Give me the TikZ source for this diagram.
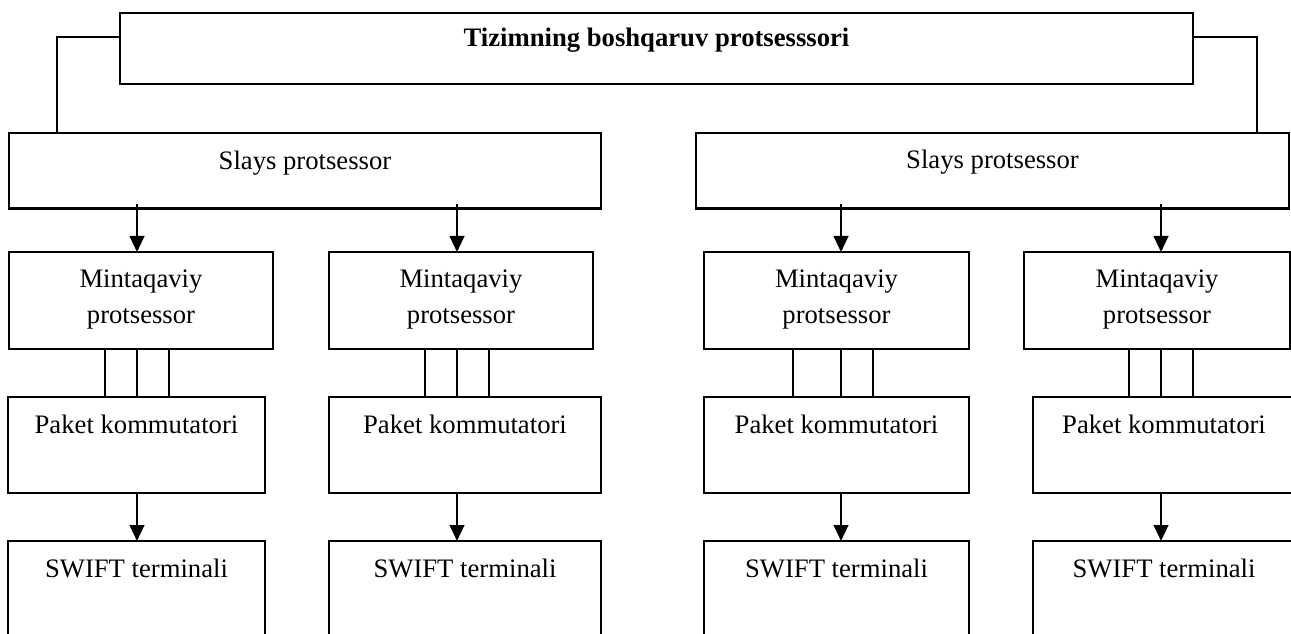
\documentclass[tikz,border=0pt]{standalone}
\usepackage{fontspec}
\setmainfont{Liberation Serif}
\usetikzlibrary{arrows.meta,fit}
\begin{document}
\begin{tikzpicture}[x=0.75pt,y=-0.75pt,
  box/.style={draw, line width=1.6pt, inner sep=0pt, outer sep=0pt, rectangle},
  txt/.style={inner sep=0pt, anchor=base, font=\fontsize{20}{27.4}\selectfont, align=center},
  ln/.style={line width=1.6pt},
  arr/.style={line width=1.6pt, -{Triangle[length=12pt,width=11pt]}}]
\useasboundingbox (0,0) rectangle (1291,634);
\clip (0,0) rectangle (1291,634);
% boxes
\node[box, fit={(120,13) (1193,84)}] (top) {};
\node[box, fit={(9,133) (601,208.5)}] (s1) {};
\node[box, fit={(696,133) (1289,208.5)}] (s2) {};
\node[box, fit={(9,252) (273,349)}] (m1) {};
\node[box, fit={(329,252) (593,349)}] (m2) {};
\node[box, fit={(704,252) (969,349)}] (m3) {};
\node[box, fit={(1024,252) (1290,349)}] (m4) {};
\node[box, fit={(8,397) (265,493)}] (p1) {};
\node[box, fit={(329,397) (601,493)}] (p2) {};
\node[box, fit={(704,397) (969,493)}] (p3) {};
\node[box, fit={(1033,397) (1300,493)}] (p4) {};
\node[box, fit={(8,541) (265,670)}] (w1) {};
\node[box, fit={(329,541) (601,670)}] (w2) {};
\node[box, fit={(704,541) (969,670)}] (w3) {};
\node[box, fit={(1033,541) (1300,670)}] (w4) {};
% texts
\node[txt, font=\bfseries\fontsize{20}{24}\selectfont] (ttop) at (656.5,47) {Tizimning boshqaruv protsesssori};
\node[txt] (ts1) at (305,170) {Slays protsessor};
\node[txt] (ts2) at (992.5,169) {Slays protsessor};
\node[txt] (tm1) at (141,324) {Mintaqaviy\\protsessor};
\node[txt] (tm2) at (461,324) {Mintaqaviy\\protsessor};
\node[txt] (tm3) at (836.5,324) {Mintaqaviy\\protsessor};
\node[txt] (tm4) at (1157,324) {Mintaqaviy\\protsessor};
\node[txt] (tp1) at (136.5,433) {Paket kommutatori};
\node[txt] (tp2) at (465,433) {Paket kommutatori};
\node[txt] (tp3) at (836.5,433) {Paket kommutatori};
\node[txt] (tp4) at (1164,433) {Paket kommutatori};
\node[txt] (tw1) at (136.5,577) {SWIFT terminali};
\node[txt] (tw2) at (465,577) {SWIFT terminali};
\node[txt] (tw3) at (836.5,577) {SWIFT terminali};
\node[txt] (tw4) at (1164,577) {SWIFT terminali};
% title connectors
\coordinate (cl) at (57,37);
\coordinate (cr) at (1257,37);
\draw[ln] (top.west |- cl) -- (cl) -- (cl |- s1.north);
\draw[ln] (top.east |- cr) -- (cr) -- (cr |- s2.north);
% slays -> mintaqaviy arrows
\foreach \x/\b in {137/m1, 457/m2, 841/m3, 1161/m4}{
  \coordinate (t) at (\x,204);
  \draw[arr] (t) -- (t |- \b.north);
}
% triple links mintaqaviy -> paket
\foreach \x/\a/\b in {105/m1/p1, 137/m1/p1, 169/m1/p1,
                      425/m2/p2, 457/m2/p2, 489/m2/p2,
                      793/m3/p3, 841/m3/p3, 873/m3/p3,
                      1129/m4/p4, 1161/m4/p4, 1193/m4/p4}{
  \coordinate (t) at (\x,0);
  \draw[ln] (t |- \a.south) -- (t |- \b.north);
}
% paket -> swift arrows
\foreach \x/\a/\b in {137/p1/w1, 457/p2/w2, 841/p3/w3, 1161/p4/w4}{
  \coordinate (t) at (\x,0);
  \draw[arr] (t |- \a.south) -- (t |- \b.north);
}
\end{tikzpicture}
\end{document}
